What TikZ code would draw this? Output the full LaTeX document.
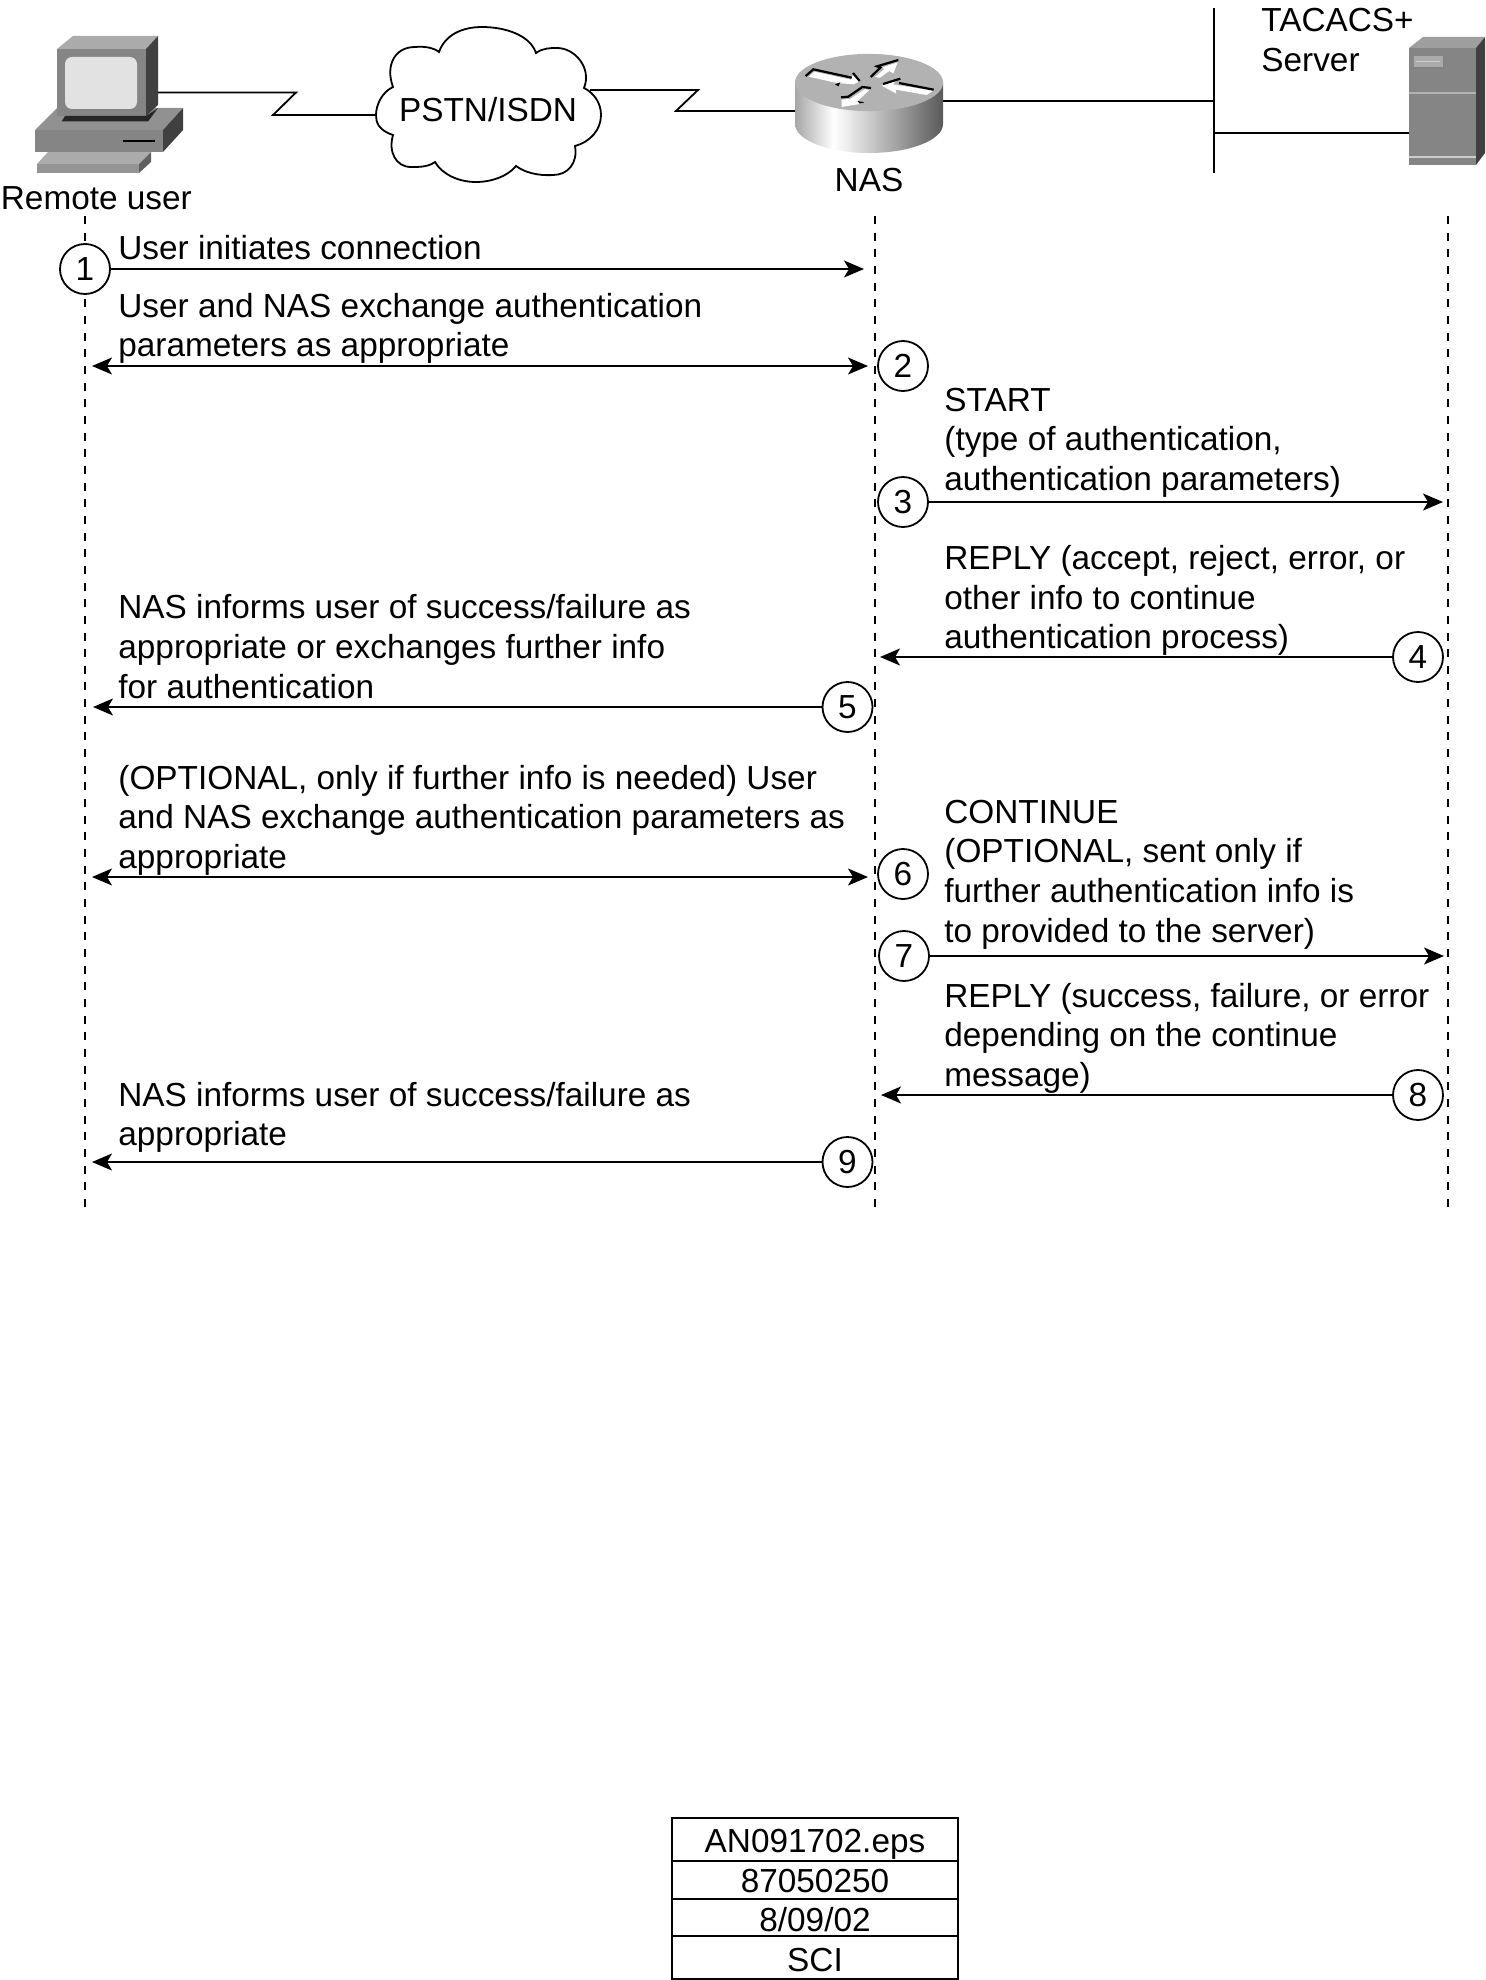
\documentclass[tikz,border=0pt]{standalone}
\usepackage{fontspec}
\setmainfont{Liberation Sans}
\usetikzlibrary{arrows.meta}
\definecolor{gmid}{HTML}{858585}
\definecolor{glight}{HTML}{ABABAB}
\definecolor{gdark}{HTML}{404040}
\definecolor{gscreen}{HTML}{E2E2E2}
\pgfdeclarehorizontalshading{routerbody}{100bp}{color(0bp)=(black!35); color(25bp)=(black!35); color(38bp)=(white); color(42bp)=(black!6); color(60bp)=(black!38); color(75bp)=(black!65); color(100bp)=(black!65)}
\tikzset{
  msg/.style={line width=0.9pt,-{Stealth[length=10pt,width=8.5pt,inset=2.5pt]}},
  msgboth/.style={line width=0.9pt,{Stealth[length=10pt,width=8.5pt,inset=2.5pt]}-{Stealth[length=10pt,width=8.5pt,inset=2.5pt]}},
  life/.style={line width=0.85pt,dash pattern=on 4pt off 4.33pt},
  wire/.style={line width=0.9pt},
  numc/.style={circle,draw,fill=white,line width=0.9pt,minimum size=25pt,inner sep=0pt,font=\fontsize{16.67}{19.8}\selectfont},
  lbl/.style={inner sep=0pt,align=left,anchor=west,font=\fontsize{16.67}{19.8}\selectfont},
  captext/.style={inner sep=0pt,font=\fontsize{16.67}{19.8}\selectfont},
  cell/.style={draw,line width=0.8pt,minimum width=143pt,inner sep=0pt,text depth=0pt,font=\fontsize{16.67}{19.8}\selectfont},
  arrowedge/.style={line width=1.1pt,black,line join=miter}
}
\begin{document}
\begin{tikzpicture}[x=0.5pt,y=-0.5pt]
\useasboundingbox (0,0) rectangle (1485,1980);
\fill[white] (0,0) rectangle (1485,1980);

% computer
\fill[glight] (57,49) -- (73,36) -- (158,36) -- (146,49) -- cycle;
\fill[gmid!90!white] (35,130) -- (57,108) -- (183,108) -- (163,130) -- cycle;
\fill[gdark] (146,49) -- (158,36) -- (158,105) -- (146,116) -- cycle;
\fill[gmid] (57,49) rectangle (146,116);
\fill[gscreen,rounded corners=3.5pt] (65,57) rectangle (137,109);
\fill[black!85] (61.5,121.5) -- (65,116) -- (146,116) -- (158,108) -- (148,121.5) -- cycle;
\fill[gmid] (35,130) rectangle (163,152);
\fill[gdark] (163,130) -- (183,108) -- (183,130) -- (163,152) -- cycle;
\draw[line width=0.9pt] (122.5,141) -- (155,141);
\fill[glight] (48,152) -- (151,152) -- (139,164) -- (37,164) -- cycle;
\fill[black!42] (37,164) rectangle (139,173);
\fill[black!62] (139,164) -- (151,152) -- (151,162) -- (139,173) -- cycle;
\node[captext,anchor=west] (remote) at (0.5,198) {Remote user};

% cloud
\draw[line width=0.9pt,fill=white] (393,135)
 .. controls (378,130) and (376,122) .. (376,115)
 .. controls (376,105) and (382,92) .. (393,87)
 .. controls (385,65) and (395,47) .. (415,47)
 .. controls (425,46) and (434,48) .. (439,52)
 .. controls (445,35) and (462,27) .. (482,27)
 .. controls (505,27) and (530,35) .. (536,53)
 .. controls (543,48) and (550,48) .. (557,48)
 .. controls (575,48) and (592,68) .. (584,88)
 .. controls (594,93) and (601,103) .. (601,115)
 .. controls (601,130) and (590,142) .. (575,146)
 .. controls (578,163) and (568,175) .. (553,175)
 .. controls (537,176) and (524,172) .. (516,166)
 .. controls (508,176) and (492,182) .. (476,182)
 .. controls (458,182) and (442,174) .. (435,162)
 .. controls (428,167) and (420,167) .. (411,167)
 .. controls (396,167) and (388,152) .. (393,135) -- cycle;
\node[captext] (pstn) at (488,110) {PSTN/ISDN};

% links
\coordinate (pcr) at (158,92.5);
\coordinate (cl) at (376,115);
\coordinate (cr) at (590,90);
\coordinate (nasl) at (795,111);
\coordinate (nasr) at (943,101);
\coordinate (busT) at (1214,8);
\coordinate (busB) at (1214,173);
\coordinate (busA) at (1214,101);
\coordinate (busS) at (1214,133);
\coordinate (srvl) at (1410,133);
\draw[wire] (pcr) -- (296,92.5) -- (273,115) -- (cl);
\draw[wire] (cr) -- (698,90) -- (676,111) -- (nasl);
\draw[wire] (nasr) -- (busA);
\draw[wire] (busT) -- (busB);
\draw[wire] (busS) -- (srvl);

% router
\shade[shading=routerbody] (795,83) -- (795,124) .. controls (795,140) and (828,153) .. (869,153) .. controls (910,153) and (943,140) .. (943,124) -- (943,83) -- cycle;
\fill[black!30] (869,82.5) ellipse [x radius=37pt,y radius=14.3pt];
\begin{scope}[shift={(785,45)},x=0.16667pt,y=-0.16667pt]
  % arrow towards the centre, from the left
  \fill[white] (72,95) -- (88,80) -- (198,104) -- (204,90) -- (222,110) -- (205,118) -- (155,114) -- cycle;
  \draw[arrowedge] (62,93) -- (85,73) -- (200,98);
  \draw[arrowedge] (204,84) -- (224,108);
  \fill[black] (150,118) -- (166,112) -- (160,124) -- cycle;
  % arrow away from the centre, upper right
  \fill[white] (270,96) -- (298,72) -- (290,68) -- (338,52) -- (325,85) -- (313,78) -- (285,98) -- cycle;
  \draw[arrowedge] (257,96) -- (286,68) -- (276,64) -- (340,45);
  % arrow towards the centre, from the right
  \fill[white] (290,122) -- (332,108) -- (324,118) -- (445,137) -- (425,150) -- (332,134) -- (334,146) -- cycle;
  \draw[arrowedge] (294,117) -- (346,101);
  \draw[arrowedge] (342,114) -- (446,134);
  % arrow away from the centre, lower left
  \fill[white] (170,186) -- (170,164) -- (195,162) -- (240,132) -- (252,136) -- (216,170) -- (230,176) -- cycle;
  \draw[arrowedge] (168,157) -- (190,155) -- (232,126) -- (258,129);
  \fill[black] (218,168) -- (238,172) -- (224,176) -- cycle;
\end{scope}
\node[captext] (nas) at (869,180) {NAS};

% server
\fill[black!38] (1409,48) -- (1423,37) -- (1485,37) -- (1476,48) -- cycle;
\fill[gdark] (1476,48) -- (1485,37) -- (1485,153) -- (1476,165) -- cycle;
\fill[gmid] (1409,48) rectangle (1476,165);
\fill[black!50] (1414,56) rectangle (1444,69);
\fill[glight] (1414,56) rectangle (1442.5,67.5);
\draw[black!20,line width=0.5pt] (1416,62) -- (1440,62);
\draw[black!30,line width=0.8pt] (1409,93) -- (1476,93);
\draw[black!20,line width=0.8pt] (1409,157) -- (1476,157);
\node[lbl] (tacacs) at (1261,40) {TACACS+\\Server};

% lifelines
\coordinate (uT) at (85,216);
\coordinate (uB) at (85,1207);
\coordinate (nT) at (875,216);
\coordinate (nB) at (875,1207);
\coordinate (sT) at (1448,216);
\coordinate (sB) at (1448,1207);
\draw[life] (uT) -- (uB);
\draw[life] (nT) -- (nB);
\draw[life] (sT) -- (sB);

% step circles
\node[numc] (c1) at (85,269) {1};
\node[numc] (c2) at (903,366) {2};
\node[numc] (c3) at (903,502) {3};
\node[numc] (c4) at (1418,657) {4};
\node[numc] (c5) at (847.5,707) {5};
\node[numc] (c6) at (903,874) {6};
\node[numc] (c7) at (904,956) {7};
\node[numc] (c8) at (1418,1095) {8};
\node[numc] (c9) at (847.5,1162) {9};

% free ends
\coordinate (e1) at (864,269);
\coordinate (e2a) at (92,366);
\coordinate (e2b) at (868,366);
\coordinate (e3) at (1443,502);
\coordinate (e4) at (880,657);
\coordinate (e5) at (93,707);
\coordinate (e6a) at (92,877);
\coordinate (e6b) at (868,877);
\coordinate (e7) at (1444,956);
\coordinate (e8) at (881,1095);
\coordinate (e9) at (92,1162);

\draw[msg] (c1) -- (e1);
\draw[msgboth] (e2a) -- (e2b);
\draw[msg] (c3) -- (e3);
\draw[msg] (c4) -- (e4);
\draw[msg] (c5) -- (e5);
\draw[msgboth] (e6a) -- (e6b);
\draw[msg] (c7) -- (e7);
\draw[msg] (c8) -- (e8);
\draw[msg] (c9) -- (e9);

% labels
\node[lbl] (t1) at (118,248) {User initiates connection};
\node[lbl] (t2) at (118,328.5) {User and NAS exchange authentication\\parameters as appropriate};
\node[lbl] (t3) at (944,442.5) {START\\(type of authentication,\\authentication parameters)};
\node[lbl] (t4) at (944,600.5) {REPLY (accept, reject, error, or\\other info to continue\\authentication process)};
\node[lbl] (t5) at (118,646.5) {NAS informs user of success/failure as\\appropriate or exchanges further info\\for authentication};
\node[lbl] (t6) at (118,820) {(OPTIONAL, only if further info is needed) User\\and NAS exchange authentication parameters as\\appropriate};
\node[lbl] (t7) at (944,874.5) {CONTINUE\\(OPTIONAL, sent only if\\further authentication info is\\to provided to the server)};
\node[lbl] (t8) at (944,1038) {REPLY (success, failure, or error\\depending on the continue\\message)};
\node[lbl] (t9) at (118,1117.5) {NAS informs user of success/failure as\\appropriate};

% table
\node[cell,minimum height=21.5pt,text height=12.5pt] (r1) at (815,1839.5) {AN091702.eps};
\node[cell,minimum height=19pt,text height=12pt] (r2) at (815,1880) {87050250};
\node[cell,minimum height=18.5pt,text height=14pt] (r3) at (815,1917.5) {8/09/02};
\node[cell,minimum height=21.5pt,text height=13.5pt] (r4) at (815,1957.5) {SCI};
\end{tikzpicture}
\end{document}
